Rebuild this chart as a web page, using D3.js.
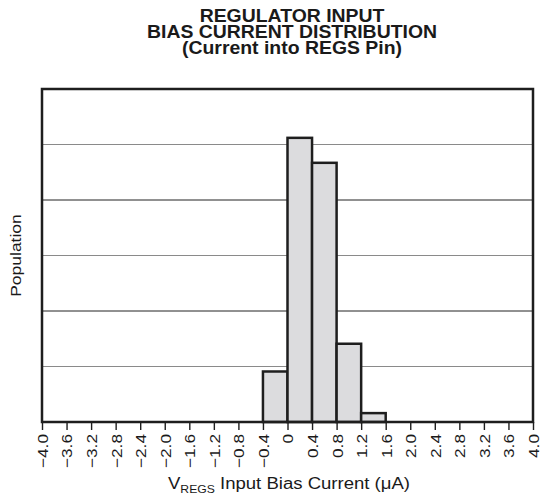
<!DOCTYPE html>
<html>
<head>
<meta charset="utf-8">
<script src="https://cdn.jsdelivr.net/npm/d3@7"></script>
<style>
  body { margin: 0; background: #fff; }
  text { font-family: "Liberation Sans", Arial, sans-serif; fill: #1a1a1a; }
</style>
</head>
<body>
<svg id="chart" width="543" height="501"></svg>
<script>
const width = 543, height = 501;
const margin = {top: 89, right: 10, bottom: 79, left: 42};

const titleLines = ["REGULATOR INPUT", "BIAS CURRENT DISTRIBUTION", "(Current into REGS Pin)"];
const binStarts = [-0.4, 0, 0.4, 0.8, 1.2];
const binWidth = 0.4;
const counts = [0.91, 5.12, 4.67, 1.41, 0.16];
const xTicks = [-4.0, -3.6, -3.2, -2.8, -2.4, -2.0, -1.6, -1.2, -0.8, -0.4, 0, 0.4, 0.8, 1.2, 1.6, 2.0, 2.4, 2.8, 3.2, 3.6, 4.0];
const gridLevels = [1, 2, 3, 4, 5];

const svg = d3.select("#chart");
const x = d3.scaleLinear().domain([-4, 4]).range([margin.left, width - margin.right]);
const y = d3.scaleLinear().domain([0, 6]).range([height - margin.bottom, margin.top]);

// title (the original lettering is a bit wide, hence the x scale)
svg.append("g")
  .selectAll("text")
  .data(titleLines)
  .join("text")
  .attr("transform", (d, i) => `translate(292,${22 + i * 16}) scale(1.11,1)`)
  .attr("text-anchor", "middle")
  .style("font-size", "17.5px").style("font-weight", "bold")
  .text(d => d);

// grid
svg.append("g")
  .selectAll("line")
  .data(gridLevels)
  .join("line")
  .attr("x1", x(-4)).attr("x2", x(4))
  .attr("y1", d => y(d)).attr("y2", d => y(d))
  .attr("stroke", (d, i) => i % 2 === 0 ? "#8a8a8a" : "#222")
  .attr("stroke-width", 1);

// bars
svg.append("g")
  .selectAll("rect")
  .data(counts)
  .join("rect")
  .attr("x", (d, i) => x(binStarts[i]))
  .attr("width", (d, i) => x(binStarts[i] + binWidth) - x(binStarts[i]))
  .attr("y", d => y(d))
  .attr("height", d => y(0) - y(d))
  .attr("fill", "#dcdcde")
  .attr("stroke", "#1e1e1e")
  .attr("stroke-width", 2.5);

// frame
svg.append("rect")
  .attr("x", x(-4)).attr("y", y(6))
  .attr("width", x(4) - x(-4)).attr("height", y(0) - y(6))
  .attr("fill", "none").attr("stroke", "#1e1e1e").attr("stroke-width", 2.5);

// x axis
const tickStretch = 1.15;
const xAxis = d3.axisBottom(x)
  .tickValues(xTicks)
  .tickSize(8)
  .tickFormat(d => d === 0 ? "0" : d3.format(".1f")(d).replace("-", "\u2212"));
const gx = svg.append("g")
  .attr("transform", `translate(0,${y(0)})`)
  .call(xAxis);
gx.select(".domain").remove();
gx.selectAll(".tick line").attr("stroke", "#1e1e1e").attr("stroke-width", 1.4);
gx.selectAll(".tick text")
  .attr("transform", `rotate(-90) scale(${tickStretch},1)`)
  .attr("x", -12 / tickStretch).attr("y", 0).attr("dy", "0.36em")
  .attr("text-anchor", "end")
  .style("font-size", "15px")
  .style("font-family", "\"Liberation Sans\", Arial, sans-serif")
  .attr("fill", "#1a1a1a");

// x label
const xl = svg.append("text")
  .attr("transform", "translate(289,489) scale(1.16,1)")
  .attr("text-anchor", "middle")
  .style("font-size", "16px");
xl.append("tspan").text("V");
xl.append("tspan").attr("dy", 4).style("font-size", "10.5px").text("REGS");
xl.append("tspan").attr("dy", -4).text(" Input Bias Current (\u03bcA)");

// y label
svg.append("text")
  .attr("transform", `translate(21,${(y(0) + y(6)) / 2}) rotate(-90) scale(1.25,1)`)
  .attr("text-anchor", "middle")
  .style("font-size", "14px")
  .text("Population");
</script>
</body>
</html>
